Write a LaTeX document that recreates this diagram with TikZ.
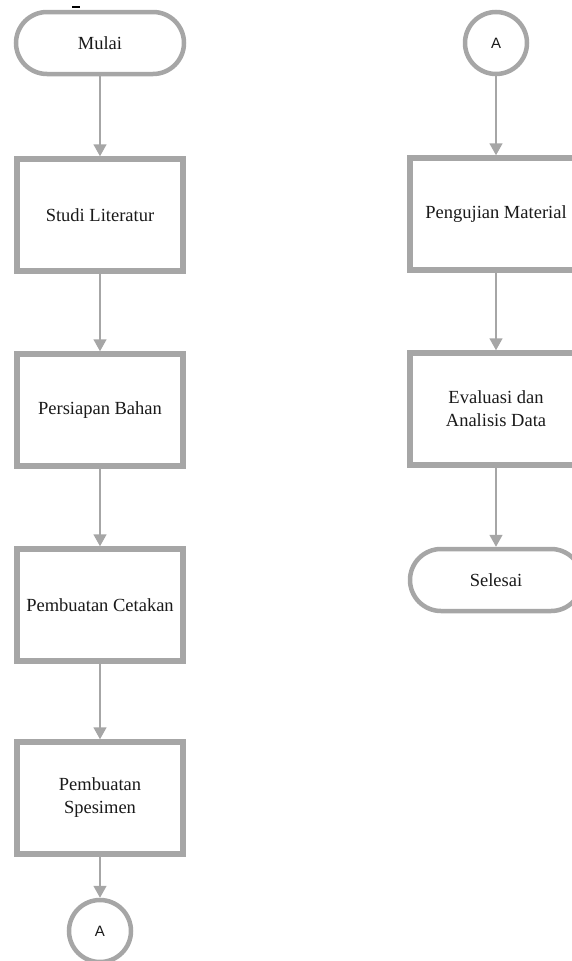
\documentclass[tikz,border=0pt]{standalone}
\usepackage{fontspec}
\setmainfont{Liberation Serif}
\newfontfamily\arialfont{Liberation Sans}
\usetikzlibrary{arrows.meta}
\definecolor{bordergray}{HTML}{A6A6A6}
\definecolor{textdark}{HTML}{1A1A1A}
\tikzset{
  procbox/.style={draw=bordergray, line width=5.5pt, fill=white, minimum width=166pt, minimum height=112pt, inner sep=0pt, align=center, font=\fontsize{18.5}{23}\selectfont, text=textdark},
  procboxR/.style={procbox, minimum width=172pt},
  termbox/.style={draw=bordergray, line width=4.5pt, fill=white, rounded corners=31pt, minimum width=168pt, minimum height=62pt, inner sep=0pt, font=\fontsize{18.5}{23}\selectfont, text=textdark},
  connbox/.style={draw=bordergray, line width=4.5pt, fill=white, circle, minimum size=62pt, inner sep=0pt, font=\arialfont\fontsize{15}{18}\selectfont, text=textdark},
  flow/.style={draw=bordergray, line width=1.6pt, -{Triangle[width=13pt,length=12pt]}}
}
\begin{document}
\begin{tikzpicture}[x=1pt,y=-1pt]
\useasboundingbox (0,0) rectangle (572,961);
% small mark at top
\draw[line width=1.3pt, black] (72,7) -- (80,7);
% left column
\node[termbox] (mulai) at (100,43) {Mulai};
\node[procbox] (studi) at (100,215) {Studi Literatur};
\node[procbox] (persiapan) at (100,410) {Persiapan Bahan};
\node[procbox] (cetakan) at (100,605) {Pembuatan Cetakan};
\node[procbox] (spesimen) at (100,798) {Pembuatan\\Spesimen};
\node[connbox] (a1) at (100,931) {A};
% right column
\node[connbox] (a2) at (496,43) {A};
\node[procboxR] (pengujian) at (496,214) {Pengujian Material};
\node[procboxR] (evaluasi) at (496,409) {Evaluasi dan\\Analisis Data};
\node[termbox, minimum width=172pt] (selesai) at (496,580) {Selesai};
% connectors
\draw[flow] (mulai) -- (studi);
\draw[flow] (studi) -- (persiapan);
\draw[flow] (persiapan) -- (cetakan);
\draw[flow] (cetakan) -- (spesimen);
\draw[flow] (spesimen) -- (a1);
\draw[flow] (a2) -- (pengujian);
\draw[flow] (pengujian) -- (evaluasi);
\draw[flow] (evaluasi) -- (selesai);
\end{tikzpicture}
\end{document}
